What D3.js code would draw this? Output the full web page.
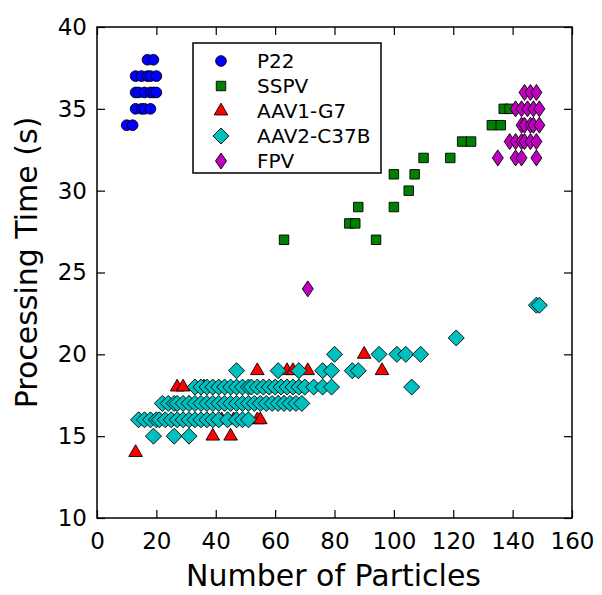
<!DOCTYPE html>
<html>
<head>
<meta charset="utf-8">
<script src="https://cdn.jsdelivr.net/npm/d3@7"></script>
<style>
  html, body { margin: 0; padding: 0; background: #fff; }
  svg text { font-family: "DejaVu Sans", sans-serif; fill: #000; }
</style>
</head>
<body>
<svg id="chart" width="602" height="595"></svg>
<script>
// ---- data ----
const seriesNames = ["P22", "SSPV", "AAV1-G7", "AAV2-C37B", "FPV"];
const xTicks = [0, 20, 40, 60, 80, 100, 120, 140, 160];
const yTicks = [10, 15, 20, 25, 30, 35, 40];

const p22 = [
  [17,38],[19,38],
  [13,37],[15,37],[17,37],[18,37],[20,37],
  [13,36],[14,36],[16,36],[18,36],[19,36],[20,36],
  [13,35],[15,35],[16,35],[18,35],
  [10,34],[12,34]
];
const sspv = [
  [63,27],[85,28],[87,28],[88,29],[94,27],[100,29],[100,31],[105,30],[107,31],
  [110,32],[119,32],[123,33],[126,33],[133,34],[136,34],[137,35],[139,35]
];
const aav1 = [
  [13,14],[27,18],[29,18],[36,18],[31,17],[39,15],[45,15],
  [42,16],[44,16],[46,16],[54,16],[55,16],
  [54,19],[64,19],[66,19],[71,19],[61,17],[63,17],[90,20],[96,19]
];
const aav2 = [
  [19,15],[26,15],[31,15],
  [14,16],[16,16],[18,16],[20,16],[21,16],[23,16],[25,16],[27,16],[29,16],[31,16],[33,16],[35,16],[37,16],[39,16],[41,16],[44,16],[47,16],[49,16],[51,16],
  [22,17],[24,17],[26,17],[27,17],[29,17],[31,17],[33,17],[35,17],[37,17],[39,17],[41,17],[43,17],[45,17],[47,17],[49,17],[51,17],[53,17],[55,17],[57,17],[59,17],[61,17],[63,17],[65,17],[67,17],[69,17],
  [33,18],[35,18],[37,18],[39,18],[41,18],[43,18],[45,18],[47,18],[49,18],[51,18],[52,18],[54,18],[56,18],[58,18],[60,18],[62,18],[64,18],[66,18],[68,18],[70,18],[73,18],[76,18],[79,18],[106,18],
  [47,19],[61,19],[68,19],[76,19],[79,19],[86,19],[88,19],
  [80,20],[95,20],[101,20],[104,20],[109,20],
  [121,21],[148,23],[149,23]
];
const fpv = [
  [71,24],
  [135,32],[141,32],[143,32],[148,32],
  [139,33],[141,33],[143,33],[144,33],[146,33],[148,33],
  [143,34],[144,34],[146,34],[147,34],[149,34],
  [141,35],[143,35],[145,35],[147,35],[149,35],
  [144,36],[146,36],[148,36]
];

// ---- layout ----
const svg = d3.select("#chart");
const L = 97, R = 572, T = 27, B = 518;
const x = d3.scaleLinear().domain([0, 160]).range([L, R]);
const y = d3.scaleLinear().domain([10, 40]).range([B, T]);

const colors = ["#0000ff", "#008000", "#ff0000", "#00bfbf", "#bf00bf"];
const symbols = [d3.symbolCircle, d3.symbolSquare, d3.symbolTriangle, d3.symbolDiamond, "thinDiamond"];
const sizes = [90, 90, 80, 115, 90];

function markerPath(i) {
  if (symbols[i] === "thinDiamond") {
    const h = 8, w = 5.5;
    return `M0,${-h}L${w},0L0,${h}L${-w},0Z`;
  }
  if (symbols[i] === d3.symbolDiamond) {
    const h = 8;
    return `M0,${-h}L${h},0L0,${h}L${-h},0Z`;
  }
  return d3.symbol().type(symbols[i]).size(sizes[i])();
}

const allSeries = [p22, sspv, aav1, aav2, fpv];

// points
allSeries.forEach((data, i) => {
  svg.append("g").selectAll("path").data(data).join("path")
    .attr("d", markerPath(i))
    .attr("transform", d => `translate(${x(d[0])},${y(d[1])})`)
    .attr("fill", colors[i])
    .attr("stroke", "#000")
    .attr("stroke-width", 0.9);
});

// frame
svg.append("rect").attr("x", L).attr("y", T).attr("width", R - L).attr("height", B - T)
  .attr("fill", "none").attr("stroke", "#000").attr("stroke-width", 1.5);

// axes (ticks inward, labels outside)
const xb = svg.append("g").attr("transform", `translate(0,${B})`)
  .call(d3.axisBottom(x).tickValues(xTicks).tickSizeInner(-8).tickSizeOuter(0).tickPadding(15));
const xt = svg.append("g").attr("transform", `translate(0,${T})`)
  .call(d3.axisTop(x).tickValues(xTicks).tickSizeInner(-8).tickSizeOuter(0).tickFormat(""));
const yl = svg.append("g").attr("transform", `translate(${L},0)`)
  .call(d3.axisLeft(y).tickValues(yTicks).tickSizeInner(-8).tickSizeOuter(0).tickPadding(10));
const yr = svg.append("g").attr("transform", `translate(${R},0)`)
  .call(d3.axisRight(y).tickValues(yTicks).tickSizeInner(-8).tickSizeOuter(0).tickFormat(""));
[xb, xt, yl, yr].forEach(g => {
  g.select(".domain").remove();
  g.selectAll("line").attr("stroke", "#000").attr("stroke-width", 1.2);
  g.selectAll("text").style("font-family", "DejaVu Sans").style("font-size", "23px").attr("fill", "#000");
});

// axis titles
svg.append("text").attr("x", (L + R) / 2 - 1).attr("y", 586)
  .attr("text-anchor", "middle")
  .style("font-size", "30px").text("Number of Particles");
svg.append("text").attr("transform", `translate(28,${(T + B) / 2 - 10}) rotate(-90)`)
  .attr("text-anchor", "middle").attr("dominant-baseline", "middle")
  .style("font-size", "30px").text("Processing Time (s)");

// legend
const lg = svg.append("g");
lg.append("rect").attr("x", 193).attr("y", 43).attr("width", 188).attr("height", 130)
  .attr("fill", "#fff").attr("stroke", "#000").attr("stroke-width", 1.5);
seriesNames.forEach((name, i) => {
  const cy = 61 + i * 25;
  lg.append("path").attr("d", markerPath(i))
    .attr("transform", `translate(221,${cy})`)
    .attr("fill", colors[i]).attr("stroke", "#000").attr("stroke-width", 0.9);
  lg.append("text").attr("x", 257).attr("y", cy).attr("dominant-baseline", "central")
    .style("font-size", "20px").text(name);
});
</script>
</body>
</html>
